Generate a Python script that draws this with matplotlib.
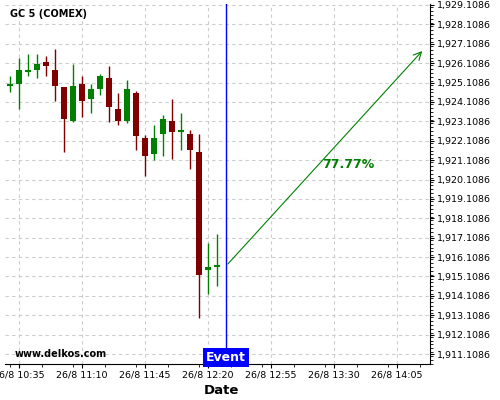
import matplotlib
matplotlib.use("Agg")
import matplotlib.pyplot as plt
from matplotlib.ticker import FixedLocator, FuncFormatter, MultipleLocator

# 5 分钟 K 线，时间 26/8
times = ["10:30", "10:35", "10:40", "10:45", "10:50", "10:55", "11:00", "11:05",
         "11:10", "11:15", "11:20", "11:25", "11:30", "11:35", "11:40", "11:45",
         "11:50", "11:55", "12:00", "12:05", "12:10", "12:15", "12:20", "12:25"]
opens = [1924.98, 1925.05, 1925.69, 1925.77, 1926.17, 1925.76, 1924.88, 1923.14,
         1925.04, 1924.28, 1924.79, 1925.34, 1923.75, 1923.14, 1924.55, 1922.24,
         1921.44, 1922.47, 1923.13, 1922.60, 1922.44, 1921.53, 1915.43, 1915.61]
highs = [1925.45, 1926.36, 1926.57, 1926.57, 1926.48, 1926.82, 1924.88, 1926.07,
         1925.45, 1925.04, 1925.55, 1925.96, 1924.55, 1925.23, 1924.66, 1922.40,
         1922.91, 1923.42, 1924.25, 1923.52, 1922.65, 1922.44, 1916.82, 1917.28]
lows = [1924.64, 1923.75, 1925.45, 1925.33, 1925.45, 1924.14, 1921.51, 1923.09,
        1923.32, 1923.52, 1924.45, 1923.09, 1922.91, 1923.01, 1921.62, 1920.31,
        1921.10, 1921.31, 1921.18, 1921.62, 1920.64, 1912.95, 1914.19, 1914.60]
closes = [1924.98, 1925.76, 1925.69, 1926.07, 1925.98, 1924.95, 1923.23, 1924.93,
          1924.16, 1924.76, 1925.45, 1923.86, 1923.14, 1924.76, 1922.35, 1921.34,
          1922.24, 1923.21, 1922.58, 1922.60, 1921.65, 1915.20, 1915.60, 1915.70]

event_time = "12:30"
arrow_end_time = "14:20"
arrow_start_price = 1915.65
arrow_end_price = 1926.84
probability = "77.77%"

tick_times = ["10:35", "11:10", "11:45", "12:20", "12:55", "13:30", "14:05"]
price_ticks = [1911.1086 + k for k in range(19)]

GREEN = "#008000"
RED = "#800000"


def to_min(t):
    """把 HH:MM 转成相对 10:30 的分钟数。"""
    h, m = t.split(":")
    return int(h) * 60 + int(m) - (10 * 60 + 30)


fig = plt.figure(figsize=(5, 4), dpi=100)
ax = fig.add_axes([0.01, 0.09, 0.85, 0.90])

width = 3.8
for t, o, h, l, c in zip(times, opens, highs, lows, closes):
    x = to_min(t)
    color = GREEN if c >= o else RED
    ax.vlines(x, l, h, color=color, linewidth=1.0, zorder=3)
    body = abs(c - o)
    if body < 0.06:
        ax.hlines((o + c) / 2, x - width / 2, x + width / 2, color=color, linewidth=1.5, zorder=3)
    else:
        ax.bar(x, body, bottom=min(o, c), width=width, color=color, zorder=3)

ex = to_min(event_time)
ax.axvline(ex, color="#0000ff", linewidth=1.0, zorder=4)
ax.annotate("", xy=(to_min(arrow_end_time), arrow_end_price),
            xytext=(ex, arrow_start_price),
            arrowprops=dict(arrowstyle="->", color=GREEN, lw=0.8, mutation_scale=14), zorder=4)
ax.text(188, 1920.86, probability, color=GREEN, fontsize=9, fontweight="bold",
        ha="center", va="center")

ax.set_xlim(-2.8, 233.3)
ax.set_ylim(1910.594, 1929.16)

ax.xaxis.set_major_locator(FixedLocator([to_min(t) for t in tick_times]))
ax.xaxis.set_major_formatter(FuncFormatter(
    lambda v, p: "26/8 %d:%02d" % divmod(int(round(v)) + 630, 60)))
ax.xaxis.set_minor_locator(MultipleLocator(17.5))
ax.yaxis.tick_right()
ax.yaxis.set_major_locator(FixedLocator(price_ticks))
ax.yaxis.set_major_formatter(FuncFormatter(lambda v, p: f"{v:,.4f}"))
ax.yaxis.set_minor_locator(MultipleLocator(0.2))
ax.tick_params(axis="both", labelsize=6.8, length=3, pad=2)
ax.tick_params(axis="both", which="minor", length=2)

for s in ["left", "top"]:
    ax.spines[s].set_visible(False)

ax.grid(True, which="major", color="#cccccc", linestyle=(0, (3, 3)), linewidth=0.8)
ax.set_axisbelow(True)

ax.set_xlabel("Date", fontsize=9.5, fontweight="bold")
ax.xaxis.set_label_coords(ex / 236.1, -0.055)

ax.text(0.012, 0.985, "GC 5 (COMEX)", transform=ax.transAxes, fontsize=7,
        fontweight="bold", va="top", ha="left")
ax.text(0.022, 0.028, "www.delkos.com", transform=ax.transAxes, fontsize=7,
        fontweight="bold", va="center", ha="left")
ax.text(ex, 1910.594, "Event", color="white", fontsize=9, fontweight="bold",
        ha="center", va="bottom",
        bbox=dict(boxstyle="square,pad=0.25", facecolor="#0000ff", edgecolor="none"), zorder=5)

fig.savefig("out.png", dpi=100)
